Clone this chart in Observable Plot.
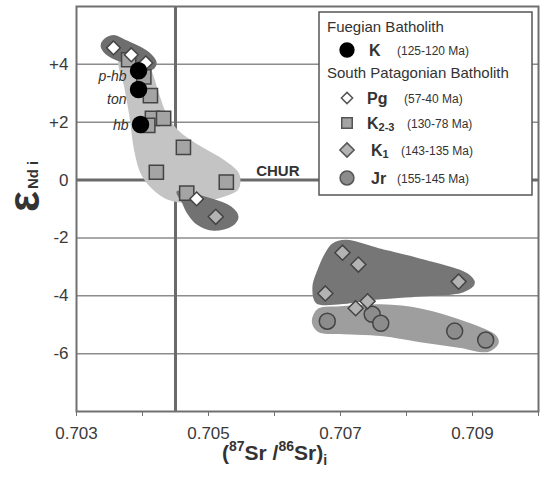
<!DOCTYPE html>
<html><head><meta charset="utf-8">
<script src="https://cdn.jsdelivr.net/npm/d3@7"></script>
<script src="https://cdn.jsdelivr.net/npm/@observablehq/plot@0.6"></script>
<style>
body{margin:0;background:#fff;}
#chart{width:540px;height:480px;}
</style></head><body><div id="chart"></div>
<script>
// ---- data ----
const xTicks = [0.703, 0.704, 0.705, 0.706, 0.707, 0.708, 0.709, 0.710];
const xTickLabels = [0.703, 0.705, 0.707, 0.709];
const yTicks = [-6, -4, -2, 0, 2, 4];
const gridY = [-6, -4, -2, 2, 4];
const churNd = 0;
const bulkEarthSr = 0.7045;
const churLabel = "CHUR";
const churLabelSr = 0.70605;

// Fuegian Batholith K (125-120 Ma)
const kSr = [0.70394, 0.70394, 0.70397];
const kNd = [3.78, 3.13, 1.92];
const kLabels = ["p-hb", "ton", "hb"];

// South Patagonian Batholith
const pgSr = [0.70356, 0.70383, 0.70405, 0.70482];
const pgNd = [4.57, 4.33, 4.05, -0.65];

const k23Sr = [0.70379, 0.70402, 0.70412, 0.70415, 0.70432, 0.70408, 0.70462, 0.70421, 0.70527, 0.70467];
const k23Nd = [4.16, 3.57, 2.92, 2.13, 2.13, 1.89, 1.13, 0.27, -0.07, -0.45];

const k1Sr = [0.70511, 0.70703, 0.70727, 0.70677, 0.70723, 0.70741, 0.70879];
const k1Nd = [-1.27, -2.51, -2.92, -3.92, -4.43, -4.19, -3.51];

const jrSr = [0.70680, 0.70748, 0.70761, 0.70873, 0.70920];
const jrNd = [-4.88, -4.64, -4.95, -5.22, -5.53];

// field outlines (Sr, Nd vertices)
const fieldK23Sr = [0.70366,0.70397,0.70412,0.70423,0.70435,0.70455,0.70488,0.70521,0.70545,0.70544,0.70518,0.70480,0.70439,0.70415,0.70398,0.70388,0.70382,0.70374];
const fieldK23Nd = [4.23,4.33,3.78,3.02,2.27,1.65,1.13,0.69,0.21,-0.31,-0.58,-0.76,-0.65,-0.27,0.27,1.13,2.16,3.20];
const fieldPgSr = [0.70341,0.70356,0.70374,0.70397,0.70412,0.70420,0.70415,0.70400,0.70379,0.70359,0.70344,0.70338];
const fieldPgNd = [4.81,4.98,4.81,4.57,4.33,4.05,3.85,3.92,4.05,4.19,4.40,4.64];
const fieldLowSr = [0.70453,0.70491,0.70533,0.70544,0.70536,0.70508,0.70483,0.70468,0.70461];
const fieldLowNd = [-0.41,-0.58,-0.93,-1.27,-1.55,-1.72,-1.51,-1.10,-0.76];
const fieldK1Sr = [0.70688,0.70708,0.70761,0.70821,0.70892,0.70902,0.70885,0.70821,0.70745,0.70700,0.70664,0.70659,0.70667,0.70677];
const fieldK1Nd = [-2.23,-2.10,-2.41,-2.75,-3.26,-3.57,-3.85,-3.99,-4.12,-4.26,-4.23,-3.68,-3.09,-2.58];
const fieldJrSr = [0.70667,0.70700,0.70761,0.70821,0.70892,0.70935,0.70938,0.70923,0.70882,0.70821,0.70761,0.70700,0.70667,0.70658];
const fieldJrNd = [-4.47,-4.40,-4.33,-4.47,-4.95,-5.40,-5.64,-5.91,-5.77,-5.57,-5.36,-5.29,-5.22,-4.88];

// legend entries
const legendGroups = ["Fuegian Batholith", "South Patagonian Batholith"];
const legendNames = ["K", "Pg", "K", "K", "Jr"];
const legendSubs = ["", "", "2-3", "1", ""];
const legendAges = ["(125-120 Ma)", "(57-40 Ma)", "(130-78 Ma)", "(143-135 Ma)", "(155-145 Ma)"];

// ---- build tables ----
const tbl = (xs, ys, extra) => xs.map((x, i) => Object.assign({sr: x, nd: ys[i]}, extra ? extra(i) : {}));
const K = tbl(kSr, kNd, i => ({label: kLabels[i]}));
const PG = tbl(pgSr, pgNd);
const K23 = tbl(k23Sr, k23Nd);
const K1 = tbl(k1Sr, k1Nd);
const JR = tbl(jrSr, jrNd);

const field = (xs, ys, fill) => Plot.line(tbl(xs, ys), {x: "sr", y: "nd", curve: "catmull-rom-closed", fill, stroke: fill, strokeWidth: 2});

const labelDy = [6, 10, 1];

const font = "'Liberation Sans', Arial, sans-serif";
const plot = Plot.plot({
  width: 540, height: 480,
  marginLeft: 76, marginRight: 2, marginTop: 6, marginBottom: 69,
  x: {domain: [0.703, 0.710]},
  y: {domain: [-8, 6]},
  style: {fontFamily: font, color: "#3a3a3a", background: "white"},
  marks: [
    Plot.ruleY(gridY, {stroke: "#8c8c8c", strokeWidth: 1.5}),
    Plot.ruleY([churNd], {stroke: "#6a6a6a", strokeWidth: 3}),
    Plot.ruleX([bulkEarthSr], {stroke: "#6a6a6a", strokeWidth: 3}),
    field(fieldK23Sr, fieldK23Nd, "#c4c4c4"),
    field(fieldPgSr, fieldPgNd, "#6e6e6e"),
    field(fieldLowSr, fieldLowNd, "#727272"),
    field(fieldJrSr, fieldJrNd, "#9e9e9e"),
    field(fieldK1Sr, fieldK1Nd, "#767676"),
    Plot.text([{sr: churLabelSr, nd: churNd, t: churLabel}], {x: "sr", y: "nd", text: "t", dy: -9, fontWeight: "bold", fontSize: 15, fill: "#333"}),
    Plot.dot(JR, {x: "sr", y: "nd", r: 8, fill: "#8c8c8c", stroke: "#444", strokeWidth: 1.5}),
    Plot.dot(K1, {x: "sr", y: "nd", r: 6.8, symbol: "diamond2", fill: "#b3b3b3", stroke: "#444", strokeWidth: 1.5}),
    Plot.dot(K23, {x: "sr", y: "nd", r: 8, symbol: "square", fill: "#a4a4a4", stroke: "#444", strokeWidth: 1.5}),
    Plot.dot(PG, {x: "sr", y: "nd", r: 6.2, symbol: "diamond2", fill: "white", stroke: "#444", strokeWidth: 1.5}),
    Plot.dot(K, {x: "sr", y: "nd", r: 8, fill: "black", stroke: "black"}),
    ...K.map((d, i) => Plot.text([d], {x: "sr", y: "nd", text: "label", textAnchor: "end", dx: -12, dy: labelDy[i], fontStyle: "italic", fontSize: 14, fill: "#333"})),
    Plot.frame({stroke: "#707070", strokeWidth: 2}),
    Plot.axisX({ticks: xTicks, tickFormat: d => xTickLabels.some(t => Math.abs(t - d) < 1e-9) ? d.toFixed(3) : "", tickSize: 5, tickPadding: 10, label: null, fontSize: 17, stroke: "#707070"}),
    Plot.axisY({ticks: yTicks, tickFormat: d => d > 0 ? "+" + d : String(d), tickSize: 0, tickPadding: 8, label: null, fontSize: 17})
  ]
});
document.getElementById("chart").appendChild(plot);

// ---- axis titles & legend ----
const svg = d3.select(plot);
// x title
const xt = svg.append("text").attr("x", 222).attr("y", 460).attr("text-anchor", "start")
  .attr("font-family", font).attr("font-weight", "bold").attr("font-size", 21).attr("fill", "#333");
xt.append("tspan").text("(");
xt.append("tspan").attr("font-size", 14).attr("dy", -9).text("87");
xt.append("tspan").attr("dy", 9).text("Sr /");
xt.append("tspan").attr("font-size", 14).attr("dy", -9).text("86");
xt.append("tspan").attr("dy", 9).text("Sr)");
xt.append("tspan").attr("font-size", 14).attr("dy", 5).text("i");
// y title
const yt = svg.append("text").attr("transform", "translate(39,212) rotate(-90)").attr("text-anchor", "start")
  .attr("font-family", font).attr("font-weight", "bold").attr("fill", "#333");
yt.append("tspan").attr("font-size", 44).text("ε");
yt.append("tspan").attr("font-size", 15).attr("dy", -1).attr("dx", 2).text("Nd i");

// legend
const lg = svg.append("g").attr("font-family", font).attr("fill", "#333").attr("text-anchor", "start");
lg.append("rect").attr("x", 319).attr("y", 12).attr("width", 213).attr("height", 183)
  .attr("fill", "white").attr("stroke", "#555").attr("stroke-width", 1.5);
lg.append("text").attr("x", 327).attr("y", 32).attr("font-size", 15).text(legendGroups[0]);
lg.append("text").attr("x", 327).attr("y", 78).attr("font-size", 15).text(legendGroups[1]);
const rowsY = [50, 98, 123, 150, 178];
const symDefs = [
  {type: d3.symbolCircle, size: 150, fill: "black", stroke: "black"},
  {type: d3.symbolDiamond2, size: 80, fill: "white", stroke: "#555"},
  {type: d3.symbolSquare, size: 110, fill: "#a4a4a4", stroke: "#555"},
  {type: d3.symbolDiamond2, size: 130, fill: "#b3b3b3", stroke: "#555"},
  {type: d3.symbolCircle, size: 150, fill: "#8c8c8c", stroke: "#555"}
];
const nameX = [369, 367, 367, 371, 371];
const ageX = [397, 404, 407, 401, 397];
rowsY.forEach((y, i) => {
  const s = symDefs[i];
  lg.append("path").attr("d", d3.symbol(s.type, s.size)()).attr("transform", `translate(347,${y})`)
    .attr("fill", s.fill).attr("stroke", s.stroke).attr("stroke-width", 1.5);
  const t = lg.append("text").attr("x", nameX[i]).attr("y", y + 6).attr("font-size", 16).attr("font-weight", "bold");
  t.append("tspan").text(legendNames[i]);
  if (legendSubs[i]) t.append("tspan").attr("font-size", 11).attr("dy", 2).text(legendSubs[i]);
  lg.append("text").attr("x", ageX[i]).attr("y", y + 5).attr("font-size", 12).text(legendAges[i]);
});
</script></body></html>
